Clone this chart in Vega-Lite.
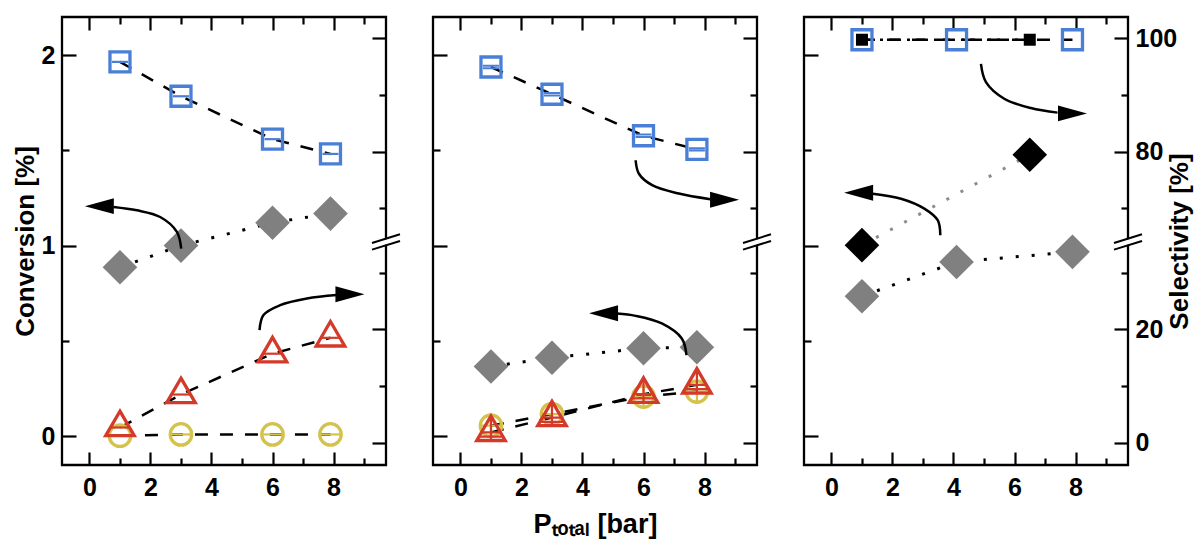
{
  "$schema": "https://vega.github.io/schema/vega-lite/v6.json",
  "background": "white",
  "padding": {"left": 10, "top": 14, "right": 0, "bottom": 0},
  "bounds": "flush",
  "spacing": 47,
  "datasets": {
    "sel": [
      {"panel": 1, "series": "sq", "x": 1, "s": 95.8},
      {"panel": 1, "series": "sq", "x": 3, "s": 89.75},
      {"panel": 1, "series": "sq", "x": 6, "s": 82.2},
      {"panel": 1, "series": "sq", "x": 7.9, "s": 79.6},
      {"panel": 1, "series": "circ", "x": 1, "s": 1.23},
      {"panel": 1, "series": "circ", "x": 3, "s": 1.46},
      {"panel": 1, "series": "circ", "x": 6, "s": 1.46},
      {"panel": 1, "series": "circ", "x": 7.9, "s": 1.46},
      {"panel": 1, "series": "tri", "x": 1, "s": 2.68},
      {"panel": 1, "series": "tri", "x": 3, "s": 8.5},
      {"panel": 1, "series": "tri", "x": 6, "s": 15.7},
      {"panel": 1, "series": "tri", "x": 7.9, "s": 18.5},
      {"panel": 2, "series": "sq", "x": 1, "s": 94.9},
      {"panel": 2, "series": "sq", "x": 3, "s": 90.1},
      {"panel": 2, "series": "sq", "x": 6, "s": 82.8},
      {"panel": 2, "series": "sq", "x": 7.75, "s": 80.4},
      {"panel": 2, "series": "circ", "x": 1, "s": 3.0},
      {"panel": 2, "series": "circ", "x": 3, "s": 5.05},
      {"panel": 2, "series": "circ", "x": 6, "s": 8.15},
      {"panel": 2, "series": "circ", "x": 7.75, "s": 9.03},
      {"panel": 2, "series": "tri", "x": 1, "s": 1.83},
      {"panel": 2, "series": "tri", "x": 3, "s": 4.44},
      {"panel": 2, "series": "tri", "x": 6, "s": 8.56},
      {"panel": 2, "series": "tri", "x": 7.75, "s": 10.2},
      {"panel": 3, "series": "sq", "x": 1, "s": 99.7},
      {"panel": 3, "series": "sq", "x": 4.1, "s": 99.7},
      {"panel": 3, "series": "sq", "x": 7.9, "s": 99.7},
      {"panel": 3, "series": "blk", "x": 1, "s": 99.7},
      {"panel": 3, "series": "blk", "x": 6.5, "s": 99.7}
    ],
    "conv": [
      {"panel": 1, "series": "dia", "x": 1, "c": 0.886},
      {"panel": 1, "series": "dia", "x": 3, "c": 1.0},
      {"panel": 1, "series": "dia", "x": 6, "c": 1.12},
      {"panel": 1, "series": "dia", "x": 7.9, "c": 1.168},
      {"panel": 2, "series": "dia", "x": 1, "c": 0.365},
      {"panel": 2, "series": "dia", "x": 3, "c": 0.411},
      {"panel": 2, "series": "dia", "x": 6, "c": 0.461},
      {"panel": 2, "series": "dia", "x": 7.75, "c": 0.466},
      {"panel": 3, "series": "dia", "x": 1, "c": 0.734},
      {"panel": 3, "series": "dia", "x": 4.1, "c": 0.914},
      {"panel": 3, "series": "dia", "x": 7.9, "c": 0.967},
      {"panel": 3, "series": "bdia", "x": 1, "c": 1.002},
      {"panel": 3, "series": "bdia", "x": 6.5, "c": 1.477}
    ],
    "arrows": [
      {"panel": 1, "arrow": "A", "i": 0, "x": 3.007, "c": 0.984},
      {"panel": 1, "arrow": "A", "i": 1, "x": 2.866, "c": 1.072},
      {"panel": 1, "arrow": "A", "i": 2, "x": 2.318, "c": 1.15},
      {"panel": 1, "arrow": "A", "i": 3, "x": 1.554, "c": 1.185},
      {"panel": 1, "arrow": "A", "i": 4, "x": 0.787, "c": 1.203},
      {"panel": 1, "arrow": "B", "i": 0, "x": 5.574, "c": 0.556},
      {"panel": 1, "arrow": "B", "i": 1, "x": 5.705, "c": 0.635},
      {"panel": 1, "arrow": "B", "i": 2, "x": 6.252, "c": 0.687},
      {"panel": 1, "arrow": "B", "i": 3, "x": 7.128, "c": 0.722},
      {"panel": 1, "arrow": "B", "i": 4, "x": 8.111, "c": 0.74},
      {"panel": 2, "arrow": "C", "i": 0, "x": 5.742, "c": 1.448},
      {"panel": 2, "arrow": "C", "i": 1, "x": 5.85, "c": 1.377},
      {"panel": 2, "arrow": "C", "i": 2, "x": 6.284, "c": 1.317},
      {"panel": 2, "arrow": "C", "i": 3, "x": 7.157, "c": 1.273},
      {"panel": 2, "arrow": "C", "i": 4, "x": 8.193, "c": 1.243},
      {"panel": 2, "arrow": "D", "i": 0, "x": 7.408, "c": 0.425},
      {"panel": 2, "arrow": "D", "i": 1, "x": 7.255, "c": 0.512},
      {"panel": 2, "arrow": "D", "i": 2, "x": 6.601, "c": 0.591},
      {"panel": 2, "arrow": "D", "i": 3, "x": 5.742, "c": 0.631},
      {"panel": 2, "arrow": "D", "i": 4, "x": 5.131, "c": 0.643},
      {"panel": 3, "arrow": "E", "i": 0, "x": 4.9, "c": 1.954},
      {"panel": 3, "arrow": "E", "i": 1, "x": 5.064, "c": 1.858},
      {"panel": 3, "arrow": "E", "i": 2, "x": 5.663, "c": 1.771},
      {"panel": 3, "arrow": "E", "i": 3, "x": 6.537, "c": 1.722},
      {"panel": 3, "arrow": "E", "i": 4, "x": 7.411, "c": 1.698},
      {"panel": 3, "arrow": "F", "i": 0, "x": 3.568, "c": 1.054},
      {"panel": 3, "arrow": "F", "i": 1, "x": 3.483, "c": 1.133},
      {"panel": 3, "arrow": "F", "i": 2, "x": 3.044, "c": 1.194},
      {"panel": 3, "arrow": "F", "i": 3, "x": 2.281, "c": 1.246},
      {"panel": 3, "arrow": "F", "i": 4, "x": 1.355, "c": 1.272}
    ],
    "heads": [
      {"panel": 1, "dir": "left", "x": 0.324, "c": 1.207},
      {"panel": 1, "dir": "right", "x": 8.538, "c": 0.744},
      {"panel": 2, "dir": "right", "x": 8.657, "c": 1.241},
      {"panel": 2, "dir": "left", "x": 4.69, "c": 0.645},
      {"panel": 3, "dir": "right", "x": 7.9, "c": 1.694},
      {"panel": 3, "dir": "left", "x": 0.89, "c": 1.277}
    ],
    "brk": [
      {"k": "gap", "x": 9.261, "c": 0.9962, "x2": 10.179, "c2": 1.0418},
      {"k": "line", "x": 9.261, "c": 0.9786, "x2": 10.179, "c2": 1.0242},
      {"k": "line", "x": 9.261, "c": 1.0138, "x2": 10.179, "c2": 1.0594}
    ]
  },
  "hconcat": [
    {
      "width": 324, "height": 448,
      "layer": [
        {
          "encoding": {
            "x": {"field": "x", "type": "quantitative", "scale": {"domain": [-0.9, 9.72], "nice": false, "zero": false},
              "axis": {"orient": "bottom", "values": [0,1,2,3,4,5,6,7,8,9], "labelExpr": "datum.value % 2 === 0 ? datum.label : ''", "tickSize": {"condition": {"test": "datum.value % 2 === 1", "value": -7}, "value": -13}, "labelPadding": 23, "title": null}},
            "y": {"field": "c", "type": "quantitative", "scale": {"domain": [-0.152, 2.2], "nice": false, "zero": false},
              "axis": {"orient": "left", "values": [0, 0.5, 1, 1.5, 2], "labelExpr": "datum.value % 1 === 0 ? format(datum.value, 'd') : ''", "tickSize": {"condition": {"test": "datum.value % 1 !== 0", "value": -7}, "value": -14}, "labelPadding": 21, "title": "Conversion [%]", "titlePadding": 3}}
          },
          "layer": [
            {"data": {"name": "brk"}, "transform": [{"filter": "datum.k === 'gap'"}], "mark": {"type": "rule", "color": "white", "strokeWidth": 5}, "encoding": {"x2": {"field": "x2"}, "y2": {"field": "c2"}}},
            {"data": {"name": "brk"}, "transform": [{"filter": "datum.k === 'line'"}], "mark": {"type": "rule", "color": "black", "strokeWidth": 2}, "encoding": {"x2": {"field": "x2"}, "y2": {"field": "c2"}}},
            {"data": {"name": "conv"}, "transform": [{"filter": "datum.panel === 1"}], "mark": {"type": "line", "strokeDash": [3, 13], "strokeWidth": 3}, "encoding": {"stroke": {"field": "series", "type": "nominal", "scale": {"domain": ["dia", "bdia"], "range": ["#000000", "#8c8c8c"]}, "legend": null}}},
            {"data": {"name": "conv"}, "transform": [{"filter": "datum.panel === 1"}], "mark": {"type": "point", "shape": "diamond", "filled": true, "size": 1200, "opacity": 1}, "encoding": {"fill": {"field": "series", "type": "nominal", "scale": {"domain": ["dia", "bdia"], "range": ["#808080", "#000000"]}, "legend": null}}},
            {"data": {"name": "arrows"}, "transform": [{"filter": "datum.panel === 1"}], "mark": {"type": "line", "interpolate": "catmull-rom", "color": "black", "strokeWidth": 2.5}, "encoding": {"detail": {"field": "arrow"}, "order": {"field": "i", "type": "quantitative"}}},
            {"data": {"name": "heads"}, "transform": [{"filter": "datum.panel === 1"}], "mark": {"type": "point", "filled": true, "color": "black", "size": 841, "opacity": 1}, "encoding": {"shape": {"field": "dir", "type": "nominal", "scale": {"domain": ["left", "right"], "range": ["M-1,0L1,-0.55L1,0.55Z", "M1,0L-1,-0.55L-1,0.55Z"]}, "legend": null}}}
          ]
        },
        {
          "encoding": {
            "x": {"field": "x", "type": "quantitative", "scale": {"domain": [-0.9, 9.72], "nice": false, "zero": false},
              "axis": {"orient": "top", "values": [0,1,2,3,4,5,6,7,8,9], "labels": false, "tickSize": {"condition": {"test": "datum.value % 2 === 1", "value": -7}, "value": -13}, "title": null}},
            "y": {"field": "s", "type": "quantitative", "scale": {"domain": [-3.93, 35.4, 64.1, 103.7], "range": [448, 225, 225, 0], "nice": false, "zero": false},
              "axis": {"orient": "right", "values": [0, 10, 20, 30, 70, 80, 90, 100], "labels": false, "tickSize": {"condition": {"test": "datum.value % 20 !== 0", "value": -7}, "value": -14}, "title": null}}
          },
          "layer": [
            {"data": {"name": "sel"}, "transform": [{"filter": "datum.panel === 1"}], "mark": {"type": "line", "color": "black", "strokeWidth": 2.5, "strokeDash": [13, 12]}, "encoding": {"detail": {"field": "series"}}},
            {"data": {"name": "sel"}, "transform": [{"filter": "datum.panel === 1 && datum.series === 'sq'"}], "mark": {"type": "point", "shape": "square", "size": 400, "filled": false, "color": "#4a7fd6", "strokeWidth": 3.3, "opacity": 1}},
            {"data": {"name": "sel"}, "transform": [{"filter": "datum.panel === 1 && datum.series === 'sq'"}], "mark": {"type": "point", "shape": "M-0.8,0L0.8,0", "size": 400, "filled": false, "color": "#4a7fd6", "strokeWidth": 2.2, "opacity": 1}},
            {"data": {"name": "sel"}, "transform": [{"filter": "datum.panel === 1 && datum.series === 'circ'"}], "mark": {"type": "point", "shape": "circle", "size": 460, "filled": false, "color": "#d4c24a", "strokeWidth": 3.3, "opacity": 1}},
            {"data": {"name": "sel"}, "transform": [{"filter": "datum.panel === 1 && datum.series === 'circ'"}], "mark": {"type": "point", "shape": "M-0.95,0L0.95,0", "size": 460, "filled": false, "color": "#d4c24a", "strokeWidth": 2.2, "opacity": 1}},
            {"data": {"name": "sel"}, "transform": [{"filter": "datum.panel === 1 && datum.series === 'tri'"}], "mark": {"type": "point", "shape": "M0,-1.146L1,0.573L-1,0.573Z", "size": 812, "filled": false, "color": "#d43a2a", "strokeWidth": 3.3, "opacity": 1}},
            {"data": {"name": "sel"}, "transform": [{"filter": "datum.panel === 1 && datum.series === 'tri'"}], "mark": {"type": "point", "shape": "M-0.62,0L0.62,0", "size": 812, "filled": false, "color": "#d43a2a", "strokeWidth": 2.2, "opacity": 1}}
          ]
        }
      ],
      "resolve": {"scale": {"y": "independent", "stroke": "independent", "fill": "independent", "shape": "independent"}, "axis": {"x": "independent"}}
    },
    {
      "width": 324, "height": 448,
      "layer": [
        {
          "encoding": {
            "x": {"field": "x", "type": "quantitative", "scale": {"domain": [-0.9, 9.72], "nice": false, "zero": false},
              "axis": {"orient": "bottom", "values": [0,1,2,3,4,5,6,7,8,9], "labelExpr": "datum.value % 2 === 0 ? datum.label : ''", "tickSize": {"condition": {"test": "datum.value % 2 === 1", "value": -7}, "value": -13}, "labelPadding": 23, "title": "P\u209c\u2092\u209c\u2090\u2097 [bar]", "titleFontSize": 27, "titlePadding": 5}},
            "y": {"field": "c", "type": "quantitative", "scale": {"domain": [-0.152, 2.2], "nice": false, "zero": false},
              "axis": {"orient": "left", "values": [0, 0.5, 1, 1.5, 2], "labels": false, "tickSize": {"condition": {"test": "datum.value % 1 !== 0", "value": -7}, "value": -14}, "title": null}}
          },
          "layer": [
            {"data": {"name": "brk"}, "transform": [{"filter": "datum.k === 'gap'"}], "mark": {"type": "rule", "color": "white", "strokeWidth": 5}, "encoding": {"x2": {"field": "x2"}, "y2": {"field": "c2"}}},
            {"data": {"name": "brk"}, "transform": [{"filter": "datum.k === 'line'"}], "mark": {"type": "rule", "color": "black", "strokeWidth": 2}, "encoding": {"x2": {"field": "x2"}, "y2": {"field": "c2"}}},
            {"data": {"name": "conv"}, "transform": [{"filter": "datum.panel === 2"}], "mark": {"type": "line", "strokeDash": [3, 13], "strokeWidth": 3}, "encoding": {"stroke": {"field": "series", "type": "nominal", "scale": {"domain": ["dia", "bdia"], "range": ["#000000", "#8c8c8c"]}, "legend": null}}},
            {"data": {"name": "conv"}, "transform": [{"filter": "datum.panel === 2"}], "mark": {"type": "point", "shape": "diamond", "filled": true, "size": 1200, "opacity": 1}, "encoding": {"fill": {"field": "series", "type": "nominal", "scale": {"domain": ["dia", "bdia"], "range": ["#808080", "#000000"]}, "legend": null}}},
            {"data": {"name": "arrows"}, "transform": [{"filter": "datum.panel === 2"}], "mark": {"type": "line", "interpolate": "catmull-rom", "color": "black", "strokeWidth": 2.5}, "encoding": {"detail": {"field": "arrow"}, "order": {"field": "i", "type": "quantitative"}}},
            {"data": {"name": "heads"}, "transform": [{"filter": "datum.panel === 2"}], "mark": {"type": "point", "filled": true, "color": "black", "size": 841, "opacity": 1}, "encoding": {"shape": {"field": "dir", "type": "nominal", "scale": {"domain": ["left", "right"], "range": ["M-1,0L1,-0.55L1,0.55Z", "M1,0L-1,-0.55L-1,0.55Z"]}, "legend": null}}}
          ]
        },
        {
          "encoding": {
            "x": {"field": "x", "type": "quantitative", "scale": {"domain": [-0.9, 9.72], "nice": false, "zero": false},
              "axis": {"orient": "top", "values": [0,1,2,3,4,5,6,7,8,9], "labels": false, "tickSize": {"condition": {"test": "datum.value % 2 === 1", "value": -7}, "value": -13}, "title": null}},
            "y": {"field": "s", "type": "quantitative", "scale": {"domain": [-3.93, 35.4, 64.1, 103.7], "range": [448, 225, 225, 0], "nice": false, "zero": false},
              "axis": {"orient": "right", "values": [0, 10, 20, 30, 70, 80, 90, 100], "labels": false, "tickSize": {"condition": {"test": "datum.value % 20 !== 0", "value": -7}, "value": -14}, "title": null}}
          },
          "layer": [
            {"data": {"name": "sel"}, "transform": [{"filter": "datum.panel === 2"}], "mark": {"type": "line", "color": "black", "strokeWidth": 2.5, "strokeDash": [13, 12]}, "encoding": {"detail": {"field": "series"}}},
            {"data": {"name": "sel"}, "transform": [{"filter": "datum.panel === 2 && datum.series === 'sq'"}], "mark": {"type": "point", "shape": "square", "size": 400, "filled": false, "color": "#4a7fd6", "strokeWidth": 3.3, "opacity": 1}},
            {"data": {"name": "sel"}, "transform": [{"filter": "datum.panel === 2 && datum.series === 'sq'"}], "mark": {"type": "point", "shape": "M-0.8,-0.12L0.8,-0.12M-0.8,0.12L0.8,0.12", "size": 400, "filled": false, "color": "#4a7fd6", "strokeWidth": 2, "opacity": 1}},
            {"data": {"name": "sel"}, "transform": [{"filter": "datum.panel === 2 && datum.series === 'circ'"}], "mark": {"type": "point", "shape": "circle", "size": 460, "filled": false, "color": "#d4c24a", "strokeWidth": 3.3, "opacity": 1}},
            {"data": {"name": "sel"}, "transform": [{"filter": "datum.panel === 2 && datum.series === 'circ'"}], "mark": {"type": "point", "shape": "M-0.95,0L0.95,0M0,-0.95L0,0.95", "size": 460, "filled": false, "color": "#d4c24a", "strokeWidth": 2.2, "opacity": 1}},
            {"data": {"name": "sel"}, "transform": [{"filter": "datum.panel === 2 && datum.series === 'tri'"}], "mark": {"type": "point", "shape": "M0,-1.146L1,0.573L-1,0.573Z", "size": 812, "filled": false, "color": "#d43a2a", "strokeWidth": 3.3, "opacity": 1}},
            {"data": {"name": "sel"}, "transform": [{"filter": "datum.panel === 2 && datum.series === 'tri'"}], "mark": {"type": "point", "shape": "M-0.62,0L0.62,0M0,-1.1L0,0.57M-0.8,0.3L0.8,0.3", "size": 812, "filled": false, "color": "#d43a2a", "strokeWidth": 2.2, "opacity": 1}}
          ]
        }
      ],
      "resolve": {"scale": {"y": "independent", "stroke": "independent", "fill": "independent", "shape": "independent"}, "axis": {"x": "independent"}}
    },
    {
      "width": 324, "height": 448,
      "layer": [
        {
          "encoding": {
            "x": {"field": "x", "type": "quantitative", "scale": {"domain": [-0.9, 9.72], "nice": false, "zero": false},
              "axis": {"orient": "bottom", "values": [0,1,2,3,4,5,6,7,8,9], "labelExpr": "datum.value % 2 === 0 ? datum.label : ''", "tickSize": {"condition": {"test": "datum.value % 2 === 1", "value": -7}, "value": -13}, "labelPadding": 23, "title": null}},
            "y": {"field": "c", "type": "quantitative", "scale": {"domain": [-0.152, 2.2], "nice": false, "zero": false},
              "axis": {"orient": "left", "values": [0, 0.5, 1, 1.5, 2], "labels": false, "tickSize": {"condition": {"test": "datum.value % 1 !== 0", "value": -7}, "value": -14}, "title": null}}
          },
          "layer": [
            {"data": {"name": "brk"}, "transform": [{"filter": "datum.k === 'gap'"}], "mark": {"type": "rule", "color": "white", "strokeWidth": 5}, "encoding": {"x2": {"field": "x2"}, "y2": {"field": "c2"}}},
            {"data": {"name": "brk"}, "transform": [{"filter": "datum.k === 'line'"}], "mark": {"type": "rule", "color": "black", "strokeWidth": 2}, "encoding": {"x2": {"field": "x2"}, "y2": {"field": "c2"}}},
            {"data": {"name": "conv"}, "transform": [{"filter": "datum.panel === 3"}], "mark": {"type": "line", "strokeDash": [3, 13], "strokeWidth": 3}, "encoding": {"stroke": {"field": "series", "type": "nominal", "scale": {"domain": ["dia", "bdia"], "range": ["#000000", "#8c8c8c"]}, "legend": null}}},
            {"data": {"name": "conv"}, "transform": [{"filter": "datum.panel === 3"}], "mark": {"type": "point", "shape": "diamond", "filled": true, "size": 1200, "opacity": 1}, "encoding": {"fill": {"field": "series", "type": "nominal", "scale": {"domain": ["dia", "bdia"], "range": ["#808080", "#000000"]}, "legend": null}}},
            {"data": {"name": "arrows"}, "transform": [{"filter": "datum.panel === 3"}], "mark": {"type": "line", "interpolate": "catmull-rom", "color": "black", "strokeWidth": 2.5}, "encoding": {"detail": {"field": "arrow"}, "order": {"field": "i", "type": "quantitative"}}},
            {"data": {"name": "heads"}, "transform": [{"filter": "datum.panel === 3"}], "mark": {"type": "point", "filled": true, "color": "black", "size": 841, "opacity": 1}, "encoding": {"shape": {"field": "dir", "type": "nominal", "scale": {"domain": ["left", "right"], "range": ["M-1,0L1,-0.55L1,0.55Z", "M1,0L-1,-0.55L-1,0.55Z"]}, "legend": null}}}
          ]
        },
        {
          "encoding": {
            "x": {"field": "x", "type": "quantitative", "scale": {"domain": [-0.9, 9.72], "nice": false, "zero": false},
              "axis": {"orient": "top", "values": [0,1,2,3,4,5,6,7,8,9], "labels": false, "tickSize": {"condition": {"test": "datum.value % 2 === 1", "value": -7}, "value": -13}, "title": null}},
            "y": {"field": "s", "type": "quantitative", "scale": {"domain": [-3.93, 35.4, 64.1, 103.7], "range": [448, 225, 225, 0], "nice": false, "zero": false},
              "axis": {"orient": "right", "values": [0, 10, 20, 30, 70, 80, 90, 100], "labelExpr": "datum.value % 20 === 0 ? datum.label : ''", "labelPadding": 21, "tickSize": {"condition": {"test": "datum.value % 20 !== 0", "value": -7}, "value": -14}, "title": "Selectivity [%]", "titleAngle": 270, "titleBaseline": "top", "titlePadding": -10}}
          },
          "layer": [
            {"data": {"name": "sel"}, "transform": [{"filter": "datum.panel === 3 && datum.series === 'sq'"}], "mark": {"type": "line", "color": "black", "strokeWidth": 2.5, "strokeDash": [13, 12]}},
            {"data": {"name": "sel"}, "transform": [{"filter": "datum.panel === 3 && datum.series === 'blk'"}], "mark": {"type": "line", "color": "black", "strokeWidth": 2.5, "strokeDash": [12, 6, 3, 6]}},
            {"data": {"name": "sel"}, "transform": [{"filter": "datum.panel === 3 && datum.series === 'sq'"}], "mark": {"type": "point", "shape": "square", "size": 400, "filled": false, "color": "#4a7fd6", "strokeWidth": 3.3, "opacity": 1}},
            {"data": {"name": "sel"}, "transform": [{"filter": "datum.panel === 3 && datum.series === 'blk'"}], "mark": {"type": "point", "shape": "square", "size": 144, "filled": true, "color": "#000000", "opacity": 1}}
          ]
        }
      ],
      "resolve": {"scale": {"y": "independent", "stroke": "independent", "fill": "independent", "shape": "independent"}, "axis": {"x": "independent"}}
    }
  ],
  "resolve": {"scale": {"x": "independent", "y": "independent", "stroke": "independent", "fill": "independent", "shape": "independent"}},
  "config": {
    "view": {"stroke": "black", "strokeWidth": 2.3},
    "axis": {"domain": false, "grid": false, "ticks": true, "tickColor": "black", "tickWidth": 2.2, "labelFlush": false, "labelOverlap": false, "labelFont": "Liberation Sans", "labelFontSize": 25, "labelFontWeight": "bold", "labelColor": "black", "titleFont": "Liberation Sans", "titleFontSize": 26, "titleFontWeight": "bold", "titleColor": "black"}
  }
}
